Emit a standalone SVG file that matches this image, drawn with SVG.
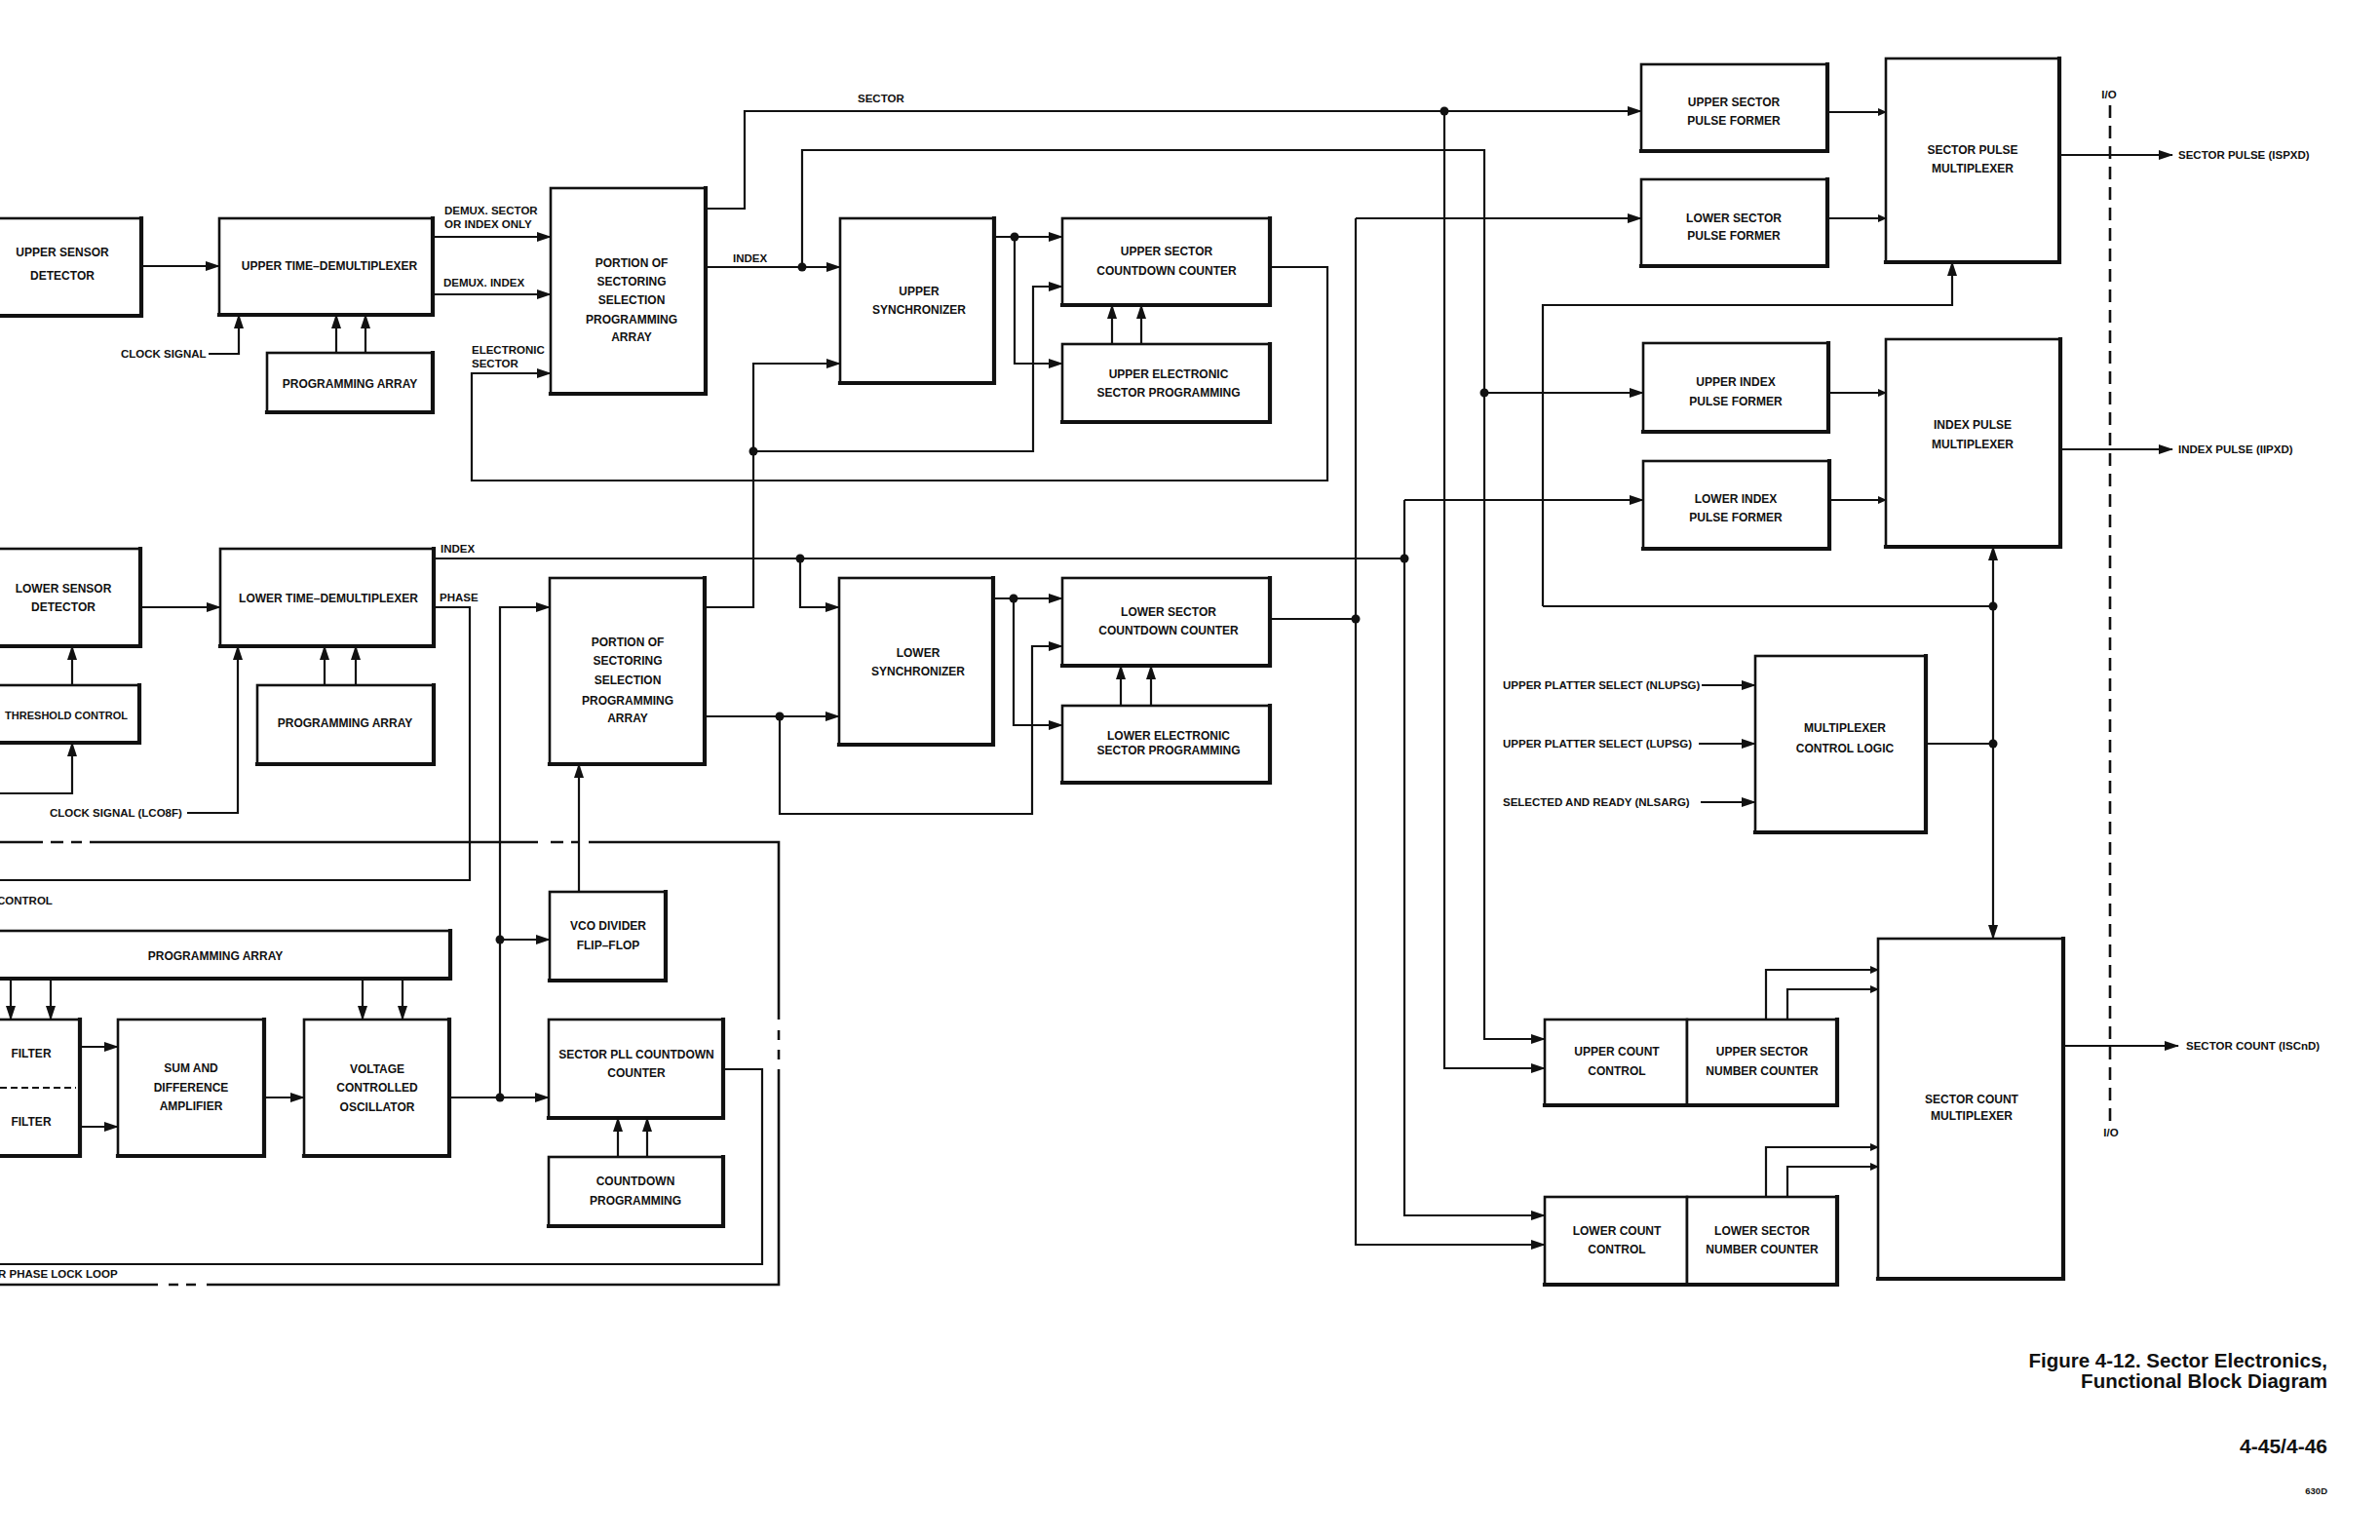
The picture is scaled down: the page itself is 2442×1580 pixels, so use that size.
<svg xmlns="http://www.w3.org/2000/svg" width="2442" height="1580" viewBox="0 0 2442 1580">
<style>
.b{fill:#fff;stroke:#111;stroke-width:2.6}
.sh{fill:none;stroke:#111;stroke-width:4.2;stroke-linecap:square}
.c{fill:none;stroke:#111;stroke-width:2.2}
.ca{fill:none;stroke:#111;stroke-width:2.2;marker-end:url(#a)}
.cs{fill:none;stroke:#111;stroke-width:2.2;marker-end:url(#s)}
.d{fill:#111}
.dash{fill:none;stroke:#111;stroke-width:2.6}
text{font-family:"Liberation Sans",Arial,Helvetica,sans-serif;font-weight:bold;fill:#111}
.t{font-size:12px;text-anchor:middle}
.l{font-size:11.5px}
.f{font-size:20.5px;text-anchor:end}
</style>
<defs>
<marker id="a" markerUnits="userSpaceOnUse" markerWidth="15" markerHeight="10" refX="14" refY="5" orient="auto"><path d="M0,0 L15,5 L0,10 z" fill="#111"/></marker>
<marker id="s" markerUnits="userSpaceOnUse" markerWidth="9" markerHeight="8" refX="8" refY="4" orient="auto"><path d="M0,0 L9,4 L0,8 z" fill="#111"/></marker>
</defs>
<rect x="0" y="0" width="2442" height="1580" fill="#fff"/>

<g id="upper-sensor-detector"><rect class="b" x="-20" y="224" width="165" height="100"/><path class="sh" d="M145,224 V324 H-20"/><text class="t" x="64" y="263">UPPER SENSOR</text><text class="t" x="64" y="287">DETECTOR</text></g>
<g id="upper-time-demux"><rect class="b" x="225" y="224" width="219" height="99"/><path class="sh" d="M444,224 V323 H225"/><text class="t" x="338" y="277">UPPER TIME–DEMULTIPLEXER</text></g>
<g id="upper-programming-array"><rect class="b" x="274" y="362" width="170" height="61"/><path class="sh" d="M444,362 V423 H274"/><text class="t" x="359" y="398">PROGRAMMING ARRAY</text></g>
<g id="upper-sectoring-selection"><rect class="b" x="565" y="193" width="159" height="211"/><path class="sh" d="M724,193 V404 H565"/><text class="t" x="648" y="274">PORTION OF</text><text class="t" x="648" y="293">SECTORING</text><text class="t" x="648" y="312">SELECTION</text><text class="t" x="648" y="332">PROGRAMMING</text><text class="t" x="648" y="350">ARRAY</text></g>
<g id="upper-synchronizer"><rect class="b" x="862" y="224" width="158" height="169"/><path class="sh" d="M1020,224 V393 H862"/><text class="t" x="943" y="303">UPPER</text><text class="t" x="943" y="322">SYNCHRONIZER</text></g>
<g id="upper-sector-countdown-counter"><rect class="b" x="1090" y="224" width="213" height="89"/><path class="sh" d="M1303,224 V313 H1090"/><text class="t" x="1197" y="262">UPPER SECTOR</text><text class="t" x="1197" y="282">COUNTDOWN COUNTER</text></g>
<g id="upper-electronic-sector-programming"><rect class="b" x="1090" y="353" width="213" height="80"/><path class="sh" d="M1303,353 V433 H1090"/><text class="t" x="1199" y="388">UPPER ELECTRONIC</text><text class="t" x="1199" y="407">SECTOR PROGRAMMING</text></g>

<g id="lower-sensor-detector"><rect class="b" x="-20" y="563" width="164" height="100"/><path class="sh" d="M144,563 V663 H-20"/><text class="t" x="65" y="608">LOWER SENSOR</text><text class="t" x="65" y="627">DETECTOR</text></g>
<g id="threshold-control"><rect class="b" x="-20" y="703" width="163" height="59"/><path class="sh" d="M143,703 V762 H-20"/><text x="131" y="738" style="font-size:11px;text-anchor:end">THRESHOLD CONTROL</text></g>
<g id="lower-time-demux"><rect class="b" x="226" y="563" width="219" height="100"/><path class="sh" d="M445,563 V663 H226"/><text class="t" x="337" y="618">LOWER TIME–DEMULTIPLEXER</text></g>
<g id="lower-programming-array"><rect class="b" x="264" y="703" width="181" height="81"/><path class="sh" d="M445,703 V784 H264"/><text class="t" x="354" y="746">PROGRAMMING ARRAY</text></g>
<g id="lower-sectoring-selection"><rect class="b" x="564" y="593" width="159" height="191"/><path class="sh" d="M723,593 V784 H564"/><text class="t" x="644" y="663">PORTION OF</text><text class="t" x="644" y="682">SECTORING</text><text class="t" x="644" y="702">SELECTION</text><text class="t" x="644" y="723">PROGRAMMING</text><text class="t" x="644" y="741">ARRAY</text></g>
<g id="lower-synchronizer"><rect class="b" x="861" y="593" width="158" height="171"/><path class="sh" d="M1019,593 V764 H861"/><text class="t" x="942" y="674">LOWER</text><text class="t" x="942" y="693">SYNCHRONIZER</text></g>
<g id="lower-sector-countdown-counter"><rect class="b" x="1090" y="593" width="213" height="90"/><path class="sh" d="M1303,593 V683 H1090"/><text class="t" x="1199" y="632">LOWER SECTOR</text><text class="t" x="1199" y="651">COUNTDOWN COUNTER</text></g>
<g id="lower-electronic-sector-programming"><rect class="b" x="1090" y="724" width="213" height="79"/><path class="sh" d="M1303,724 V803 H1090"/><text class="t" x="1199" y="759">LOWER ELECTRONIC</text><text class="t" x="1199" y="774">SECTOR PROGRAMMING</text></g>

<g id="vco-divider-flip-flop"><rect class="b" x="564" y="915" width="119" height="91"/><path class="sh" d="M683,915 V1006 H564"/><text class="t" x="624" y="954">VCO DIVIDER</text><text class="t" x="624" y="974">FLIP–FLOP</text></g>
<g id="pll-programming-array"><rect class="b" x="-20" y="955" width="482" height="49"/><path class="sh" d="M462,955 V1004 H-20"/><text class="t" x="221" y="985">PROGRAMMING ARRAY</text></g>
<g id="filter"><rect class="b" x="-20" y="1046" width="102" height="140"/><path class="sh" d="M82,1046 V1186 H-20"/><text class="t" x="32" y="1085">FILTER</text><text class="t" x="32" y="1155">FILTER</text><path d="M0,1116 H78" fill="none" stroke="#111" stroke-width="1.8" stroke-dasharray="7 4"/></g>
<g id="sum-and-difference-amplifier"><rect class="b" x="121" y="1046" width="150" height="140"/><path class="sh" d="M271,1046 V1186 H121"/><text class="t" x="196" y="1100">SUM AND</text><text class="t" x="196" y="1120">DIFFERENCE</text><text class="t" x="196" y="1139">AMPLIFIER</text></g>
<g id="voltage-controlled-oscillator"><rect class="b" x="312" y="1046" width="149" height="140"/><path class="sh" d="M461,1046 V1186 H312"/><text class="t" x="387" y="1101">VOLTAGE</text><text class="t" x="387" y="1120">CONTROLLED</text><text class="t" x="387" y="1140">OSCILLATOR</text></g>
<g id="sector-pll-countdown-counter"><rect class="b" x="563" y="1046" width="179" height="101"/><path class="sh" d="M742,1046 V1147 H563"/><text class="t" x="653" y="1086">SECTOR PLL COUNTDOWN</text><text class="t" x="653" y="1105">COUNTER</text></g>
<g id="countdown-programming"><rect class="b" x="563" y="1187" width="179" height="71"/><path class="sh" d="M742,1187 V1258 H563"/><text class="t" x="652" y="1216">COUNTDOWN</text><text class="t" x="652" y="1236">PROGRAMMING</text></g>

<g id="upper-sector-pulse-former"><rect class="b" x="1684" y="66" width="191" height="89"/><path class="sh" d="M1875,66 V155 H1684"/><text class="t" x="1779" y="109">UPPER SECTOR</text><text class="t" x="1779" y="128">PULSE FORMER</text></g>
<g id="lower-sector-pulse-former"><rect class="b" x="1684" y="184" width="191" height="89"/><path class="sh" d="M1875,184 V273 H1684"/><text class="t" x="1779" y="228">LOWER SECTOR</text><text class="t" x="1779" y="246">PULSE FORMER</text></g>
<g id="sector-pulse-multiplexer"><rect class="b" x="1935" y="60" width="178" height="209"/><path class="sh" d="M2113,60 V269 H1935"/><text class="t" x="2024" y="158">SECTOR PULSE</text><text class="t" x="2024" y="177">MULTIPLEXER</text></g>
<g id="upper-index-pulse-former"><rect class="b" x="1686" y="352" width="190" height="91"/><path class="sh" d="M1876,352 V443 H1686"/><text class="t" x="1781" y="396">UPPER INDEX</text><text class="t" x="1781" y="416">PULSE FORMER</text></g>
<g id="lower-index-pulse-former"><rect class="b" x="1686" y="473" width="191" height="90"/><path class="sh" d="M1877,473 V563 H1686"/><text class="t" x="1781" y="516">LOWER INDEX</text><text class="t" x="1781" y="535">PULSE FORMER</text></g>
<g id="index-pulse-multiplexer"><rect class="b" x="1935" y="348" width="179" height="213"/><path class="sh" d="M2114,348 V561 H1935"/><text class="t" x="2024" y="440">INDEX PULSE</text><text class="t" x="2024" y="460">MULTIPLEXER</text></g>
<g id="multiplexer-control-logic"><rect class="b" x="1801" y="673" width="175" height="181"/><path class="sh" d="M1976,673 V854 H1801"/><text class="t" x="1893" y="751">MULTIPLEXER</text><text class="t" x="1893" y="772">CONTROL LOGIC</text></g>
<g id="upper-count-control"><rect class="b" x="1585" y="1046" width="146" height="88"/><path class="sh" d="M1731,1134 H1585"/><text class="t" x="1659" y="1083">UPPER COUNT</text><text class="t" x="1659" y="1103">CONTROL</text></g>
<g id="upper-sector-number-counter"><rect class="b" x="1731" y="1046" width="154" height="88"/><path class="sh" d="M1885,1046 V1134 H1731"/><text class="t" x="1808" y="1083">UPPER SECTOR</text><text class="t" x="1808" y="1103">NUMBER COUNTER</text></g>
<g id="lower-count-control"><rect class="b" x="1585" y="1228" width="146" height="90"/><path class="sh" d="M1731,1318 H1585"/><text class="t" x="1659" y="1267">LOWER COUNT</text><text class="t" x="1659" y="1286">CONTROL</text></g>
<g id="lower-sector-number-counter"><rect class="b" x="1731" y="1228" width="154" height="90"/><path class="sh" d="M1885,1228 V1318 H1731"/><text class="t" x="1808" y="1267">LOWER SECTOR</text><text class="t" x="1808" y="1286">NUMBER COUNTER</text></g>
<g id="sector-count-multiplexer"><rect class="b" x="1927" y="963" width="190" height="349"/><path class="sh" d="M2117,963 V1312 H1927"/><text class="t" x="2023" y="1132">SECTOR COUNT</text><text class="t" x="2023" y="1149">MULTIPLEXER</text></g>

<g id="connectors">
<path class="ca" d="M145,273 H225"/>
<path class="ca" d="M444,243 H565"/>
<path class="ca" d="M444,302 H565"/>
<path class="ca" d="M214,363 H245 V323"/>
<path class="ca" d="M345,362 V323"/>
<path class="ca" d="M375,362 V323"/>
<path class="ca" d="M724,214 H764 V114 H1684"/>
<path class="ca" d="M724,274 H862"/>
<path class="ca" d="M823,274 V154 H1523 V1066 H1585"/>
<path class="ca" d="M1523,403 H1686"/>
<path class="ca" d="M723,623 H773 V373 H862"/>
<path class="ca" d="M773,463 H1060 V294 H1090"/>
<path class="ca" d="M1020,243 H1090"/>
<path class="ca" d="M1041,243 V373 H1090"/>
<path class="ca" d="M1141,353 V313"/>
<path class="ca" d="M1171,353 V313"/>
<path class="ca" d="M1303,274 H1362 V493 H484 V383 H565"/>

<path class="ca" d="M144,623 H226"/>
<path class="ca" d="M74,703 V663"/>
<path class="ca" d="M0,814 H74 V762"/>
<path class="ca" d="M192,834 H244 V663"/>
<path class="ca" d="M333,703 V663"/>
<path class="ca" d="M365,703 V663"/>
<path class="c" d="M445,573 H1441"/>
<path class="c" d="M445,623 H482 V903 H0"/>
<path class="ca" d="M723,735 H861"/>
<path class="ca" d="M800,735 V835 H1059 V663 H1090"/>
<path class="ca" d="M821,573 V623 H861"/>
<path class="ca" d="M1019,614 H1090"/>
<path class="ca" d="M1040,614 V744 H1090"/>
<path class="ca" d="M1150,724 V683"/>
<path class="ca" d="M1181,724 V683"/>
<path class="c" d="M1303,635 H1391"/>
<path class="ca" d="M1391,224 H1684"/>
<path class="ca" d="M1391,224 V1277 H1585"/>
<path class="ca" d="M1441,513 H1686"/>
<path class="ca" d="M1441,513 V1247 H1585"/>
<path class="ca" d="M1482,114 V1096 H1585"/>
<path class="ca" d="M1583,622 V313 H2003 V269"/>
<path class="c" d="M1583,622 H2045"/>
<path class="ca" d="M2045,622 V561"/>
<path class="ca" d="M2045,622 V963"/>
<path class="c" d="M1976,763 H2045"/>
<path class="ca" d="M1746,703 H1801"/>
<path class="ca" d="M1743,763 H1801"/>
<path class="ca" d="M1745,823 H1801"/>
<path class="ca" d="M2113,159 H2229"/>
<path class="ca" d="M2114,461 H2229"/>
<path class="ca" d="M2117,1073 H2235"/>
<path class="cs" d="M1875,115 H1935"/>
<path class="cs" d="M1875,224 H1935"/>
<path class="cs" d="M1876,403 H1935"/>
<path class="cs" d="M1877,513 H1935"/>
<path class="cs" d="M1812,1046 V995 H1927"/>
<path class="cs" d="M1834,1046 V1015 H1927"/>
<path class="cs" d="M1812,1228 V1177 H1927"/>
<path class="cs" d="M1834,1228 V1197 H1927"/>

<path class="ca" d="M513,1126 V623 H564"/>
<path class="ca" d="M461,1126 H563"/>
<path class="ca" d="M513,964 H564"/>
<path class="ca" d="M594,915 V784"/>
<path class="c" d="M742,1097 H782 V1297 H0"/>
<path class="ca" d="M634,1187 V1147"/>
<path class="ca" d="M664,1187 V1147"/>
<path class="ca" d="M11,1004 V1046"/>
<path class="ca" d="M52,1004 V1046"/>
<path class="ca" d="M372,1004 V1046"/>
<path class="ca" d="M413,1004 V1046"/>
<path class="ca" d="M82,1074 H121"/>
<path class="ca" d="M82,1156 H121"/>
<path class="ca" d="M271,1126 H312"/>

<circle class="d" cx="823" cy="274" r="4.5"/>
<circle class="d" cx="773" cy="463" r="4.5"/>
<circle class="d" cx="1041" cy="243" r="4.5"/>
<circle class="d" cx="1482" cy="114" r="4.5"/>
<circle class="d" cx="1523" cy="403" r="4.5"/>
<circle class="d" cx="821" cy="573" r="4.5"/>
<circle class="d" cx="800" cy="735" r="4.5"/>
<circle class="d" cx="1040" cy="614" r="4.5"/>
<circle class="d" cx="1391" cy="635" r="4.5"/>
<circle class="d" cx="1441" cy="573" r="4.5"/>
<circle class="d" cx="2045" cy="622" r="4.5"/>
<circle class="d" cx="2045" cy="763" r="4.5"/>
<circle class="d" cx="513" cy="964" r="4.5"/>
<circle class="d" cx="513" cy="1126" r="4.5"/>

<path class="dash" d="M0,864 H44 M52,864 H65 M73,864 H84 M92,864 H552 M565,864 H578 M586,864 H594 M604,864 H799 V1046 M799,1057 V1067 M799,1077 V1087 M799,1097 V1318 H212 M201,1318 H191 M183,1318 H173 M162,1318 H0"/>
<path class="dash" d="M2165,108 V1152" stroke-width="3" stroke-dasharray="13 8"/>
</g>

<g id="labels">
<text class="l" x="456" y="220">DEMUX. SECTOR</text>
<text class="l" x="456" y="234">OR INDEX ONLY</text>
<text class="l" x="455" y="294">DEMUX. INDEX</text>
<text class="l" x="484" y="363">ELECTRONIC</text>
<text class="l" x="484" y="377">SECTOR</text>
<text class="l" x="752" y="269">INDEX</text>
<text class="l" x="880" y="105">SECTOR</text>
<text class="l" x="124" y="367">CLOCK SIGNAL</text>
<text class="l" x="452" y="567">INDEX</text>
<text class="l" x="451" y="617">PHASE</text>
<text class="l" x="51" y="838">CLOCK SIGNAL (LCO8F)</text>
<text class="l" x="-3" y="928">CONTROL</text>
<text class="l" x="-2" y="1311">R PHASE LOCK LOOP</text>
<text class="l" x="1542" y="707">UPPER PLATTER SELECT (NLUPSG)</text>
<text class="l" x="1542" y="767">UPPER PLATTER SELECT (LUPSG)</text>
<text class="l" x="1542" y="827">SELECTED AND READY (NLSARG)</text>
<text class="l" x="2235" y="163">SECTOR PULSE (ISPXD)</text>
<text class="l" x="2235" y="465">INDEX PULSE (IIPXD)</text>
<text class="l" x="2243" y="1077">SECTOR COUNT  (ISCnD)</text>
<text class="l" x="2164" y="101" style="text-anchor:middle">I/O</text>
<text class="l" x="2166" y="1166" style="text-anchor:middle">I/O</text>
<text class="f" x="2388" y="1403">Figure 4-12. Sector Electronics,</text>
<text class="f" x="2388" y="1424">Functional Block Diagram</text>
<text class="f" x="2388" y="1491" style="font-size:21px">4-45/4-46</text>
<text class="f" x="2388" y="1533" style="font-size:9.5px">630D</text>
</g>
</svg>
